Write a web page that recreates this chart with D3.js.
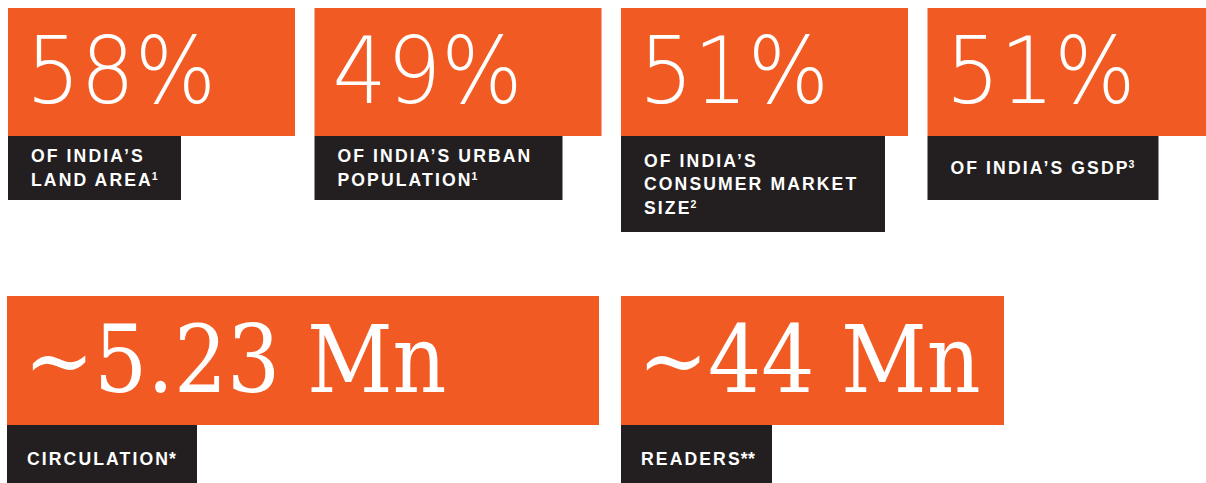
<!DOCTYPE html>
<html><head><meta charset="utf-8">
<script src="https://cdn.jsdelivr.net/npm/d3@7"></script>
<style>html,body{margin:0;padding:0;background:#fff;overflow:hidden}</style>
</head><body>
<script>
// ---- data ----
const topValues = ["58%", "49%", "51%", "51%"];
const topLabels = [["OF INDIA’S", "LAND AREA"], ["OF INDIA’S URBAN", "POPULATION"], ["OF INDIA’S", "CONSUMER MARKET", "SIZE"], ["OF INDIA’S GSDP"]];
const topNotes = ["1", "1", "2", "3"];
const bottomValues = ["~5.23 Mn", "~44 Mn"];
const bottomLabels = [["CIRCULATION"], ["READERS"]];
const bottomNotes = ["*", "**"];

// ---- layout ----
const W = 1206, H = 483;
const ORANGE = "#F15A22", DARK = "#231F20";
const svg = d3.select("body").append("svg").attr("width", W).attr("height", H);

const xTop = d3.scaleBand().domain(d3.range(topValues.length)).range([8, 1214.5]).paddingInner(0.0636);
const topDarkW = [173, 248, 264, 231];
const topDarkH = [64, 64, 96, 64];
const topY = 8, topH = 128;

const bottomX = [7, 621], bottomW = [592, 383], bottomDarkW = [190, 151];
const botY = 296, botH = 129, botDarkH = 68;

const labelFont = "'Liberation Sans', Arial, sans-serif";
const lineH = 23.8, capH = 12.6;

function drawLabel(g, x, y0, h, lines, note, noteIsStar) {
  const n = lines.length;
  const center = y0 + h / 2;
  const first = center + capH / 2 - (n - 1) * lineH / 2;
  lines.forEach((ln, i) => {
    const t = g.append("text")
      .attr("x", x).attr("y", first + i * lineH)
      .attr("fill", "#fff")
      .attr("font-family", labelFont)
      .attr("font-weight", "bold")
      .attr("font-size", 17.6)
      .attr("letter-spacing", 2.1);
    t.append("tspan").text(ln);
    if (i === n - 1) {
      if (noteIsStar) {
        t.append("tspan").attr("font-size", 17.6).attr("dx", -1).attr("letter-spacing", 0.5).text(note);
      } else {
        t.append("tspan").attr("font-size", 10.5).attr("dy", -6.5).attr("dx", -1).text(note);
      }
    }
  });
}

// top row
topValues.forEach((v, i) => {
  const g = svg.append("g");
  const x = xTop(i);
  g.append("rect").attr("x", x).attr("y", topY).attr("width", xTop.bandwidth()).attr("height", topH).attr("fill", ORANGE);
  g.append("rect").attr("x", x).attr("y", topY + topH).attr("width", topDarkW[i]).attr("height", topDarkH[i]).attr("fill", DARK);
  g.append("text")
    .attr("transform", `translate(${x + 18},103) scale(0.93,1)`)
    .attr("fill", "#fff")
    .attr("font-family", "'DejaVu Sans', sans-serif")
    .attr("font-weight", 200)
    .attr("font-size", 92)
    .text(v);
  drawLabel(g, x + 23, topY + topH, topDarkH[i], topLabels[i], topNotes[i], false);
});

// bottom row
bottomValues.forEach((v, i) => {
  const g = svg.append("g");
  const x = bottomX[i];
  g.append("rect").attr("x", x).attr("y", botY).attr("width", bottomW[i]).attr("height", botH).attr("fill", ORANGE);
  g.append("rect").attr("x", x).attr("y", botY + botH).attr("width", bottomDarkW[i]).attr("height", botDarkH).attr("fill", DARK);
  g.append("text")
    .attr("transform", `translate(${x + 17},392) scale(0.89,1)`)
    .attr("fill", "#fff")
    .attr("font-family", "'DejaVu Serif', serif")
    .attr("font-size", 94)
    .text(v);
  drawLabel(g, x + 20, botY + botH, botDarkH, bottomLabels[i], bottomNotes[i], true);
});
</script>
</body></html>
